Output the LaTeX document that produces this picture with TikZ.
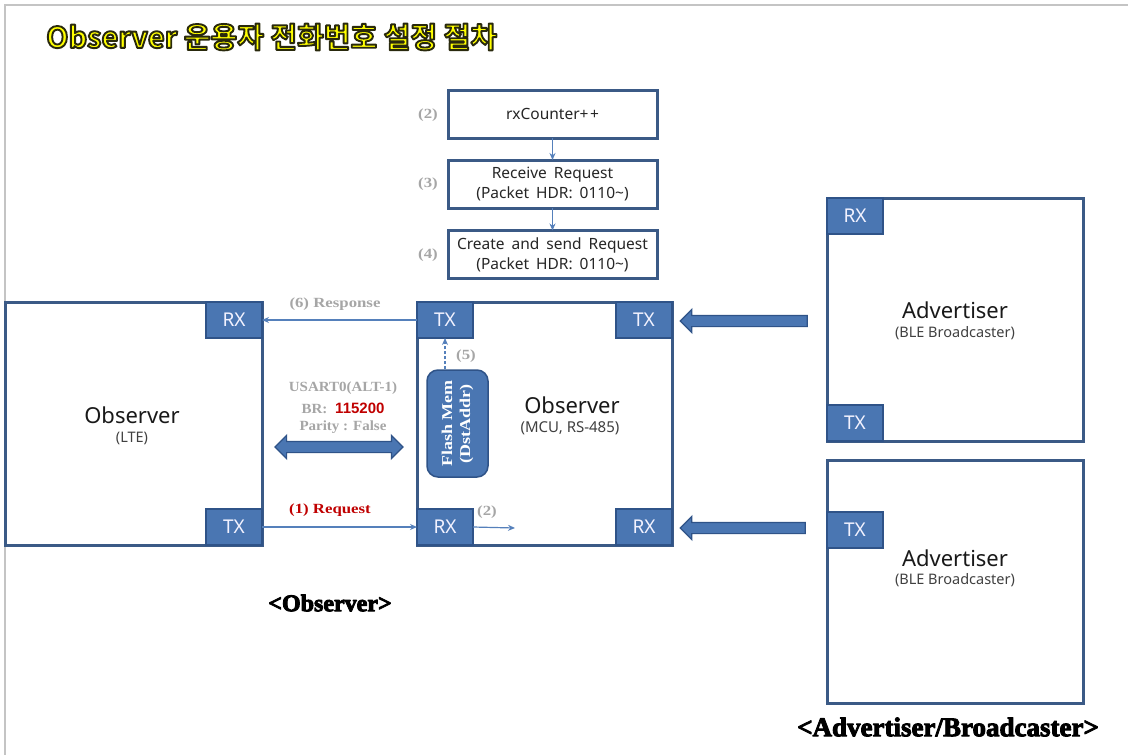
\documentclass[tikz,border=0pt]{standalone}
\usepackage{fontspec}
\usetikzlibrary{arrows.meta,shapes.arrows}
\setmainfont{Noto Sans}
\newfontfamily\krfont{Noto Sans CJK KR}[BoldFont={Noto Sans CJK KR Bold}]
\newfontfamily\lblfont{Liberation Serif}[FakeStretch=1.2]
\newfontfamily\usartfont{Liberation Serif}[FakeStretch=1.07]
\newfontfamily\capfont{Liberation Serif}
\newfontfamily\arialf{Liberation Sans}

\definecolor{edgeblue}{HTML}{3B5A86}
\definecolor{tabblue}{HTML}{4A76B2}
\definecolor{tabedge}{HTML}{2F5388}
\definecolor{thinblue}{HTML}{5580BB}
\definecolor{lblgray}{HTML}{A6A6A6}
\definecolor{reqred}{HTML}{C00000}
\definecolor{framegray}{HTML}{C4C4C4}
\definecolor{titleyellow}{HTML}{FFFF00}

\newcommand{\fs}[1]{\fontsize{#1}{#1}\selectfont}
\newcommand{\widewords}{\spaceskip=0.45em\relax}
% letters filled and stroked with a dark outline (PDF text render mode 2)
\newcommand{\outlined}[1]{\special{pdf:literal direct 2 Tr 1.9 w 1 j 0.16 0.16 0.05 RG}#1\special{pdf:literal direct 0 Tr 0.4 w 0 j}}
% heavier black lettering for the section captions
\newcommand{\heavy}[1]{\special{pdf:literal direct 2 Tr 0.9 w 1 j 0 0 0 RG}#1\special{pdf:literal direct 0 Tr 0.4 w 0 j}}

\tikzset{
  box/.style={draw=edgeblue, line width=3, fill=white, inner sep=0, outer sep=0},
  tab/.style={draw=tabedge, fill=tabblue, line width=1.2, minimum width=56,
    minimum height=36, inner sep=0, outer sep=0, text=white!95!blue, font=\fs{19}},
  flow/.style={box, minimum width=209, minimum height=48, align=center,
    font=\fontsize{15.5}{20}\selectfont, text=black!85},
  steplbl/.style={font=\lblfont\bfseries\fs{14}, text=lblgray, inner sep=0},
  usartlbl/.style={font=\usartfont\bfseries\fs{14}, text=lblgray, inner sep=0},
  thinarr/.style={draw=thinblue, line width=1.2, -{Stealth[length=7,width=6]}},
  dasharr/.style={thinarr, dashed, dash pattern=on 3 off 2},
  fatarr/.style={single arrow, draw=tabedge, fill=tabblue, line width=1.2,
    inner xsep=0, inner ysep=5, single arrow head extend=6, minimum height=#1,
    shape border rotate=180, outer sep=0},
  fatdbl/.style={double arrow, draw=tabedge, fill=tabblue, line width=1.2,
    inner xsep=0, inner ysep=5, double arrow head extend=6, minimum height=#1,
    outer sep=0},
  bigname/.style={font=\fs{22}, text=black!90, inner sep=0},
  subname/.style={font=\fs{14.5}, text=black!75, inner sep=0},
  caption/.style={font=\capfont\bfseries\fs{#1}, text=black, inner sep=0},
}

\begin{document}
\begin{tikzpicture}[x=1pt, y=-1pt]
\useasboundingbox (0,0) rectangle (1128,755);
\fill[white] (0,0) rectangle (1128,755);

% page frame (top and left edges)
\draw[framegray, line width=2] (1128,5) -- (5,5) -- (5,755);

% title: yellow letters with a dark outline
\node[anchor=west, inner sep=0, text=titleyellow, font=\krfont\bfseries\fs{29}] (title) at (46,37)
  {\outlined{Observer 운용자 전화번호 설정 절차}};

% processing steps
\node[flow] (f2) at (552.5,114) {rxCounter+{\kern1.5pt}+};
\node[flow] (f3) at (552.5,184) {\widewords Receive Request\\\widewords(Packet HDR: 0110\textasciitilde)};
\node[flow] (f4) at (552.5,254.5) {\widewords Create and send Request\\\widewords(Packet HDR: 0110\textasciitilde)};
\node[steplbl] (l2) at (428,115) {(2)};
\node[steplbl] (l3) at (428,184) {(3)};
\node[steplbl] (l4) at (428,255) {(4)};
\draw[thinarr] (f2.south) -- (f3.north);
\draw[thinarr] (f3.south) -- (f4.north);

% Observer (LTE)
\node[box, anchor=north west, minimum width=257, minimum height=243] (lte) at (5,302) {};
\node[tab, anchor=north east] (lteRX) at (lte.north east) {RX};
\node[tab, anchor=south east] (lteTX) at (lte.south east) {TX};
\node[bigname] (lteN) at (132,415) {Observer};
\node[subname] (lteS) at (132,438) {(LTE)};

% Observer (MCU)
\node[box, anchor=north west, minimum width=255, minimum height=243] (mcu) at (417,302) {};
\node[tab, anchor=north west] (mcuTXl) at (mcu.north west) {TX};
\node[tab, anchor=north east] (mcuTXr) at (mcu.north east) {TX};
\node[tab, anchor=south west] (mcuRXl) at (mcu.south west) {RX};
\node[tab, anchor=south east] (mcuRXr) at (mcu.south east) {RX};
\node[bigname] (mcuN) at (572,405) {Observer};
\node[subname, font=\fs{15}] (mcuS) at (570,428) {(MCU, RS-485)};
\node[draw=tabedge, fill=tabblue, line width=1.5, rounded corners=11, rotate=90,
  minimum width=107, minimum height=61, inner sep=0, align=center,
  text=white, font=\lblfont\bfseries\fontsize{15}{18}\selectfont] (flash) at (457.5,423.5)
  {Flash Mem\\(DstAddr)};
\coordinate (c2) at (515,528);

% Advertisers
\node[box, anchor=north west, minimum width=256, minimum height=243] (adv1) at (827,198) {};
\node[tab, anchor=north west] (adv1RX) at (adv1.north west) {RX};
\node[tab, anchor=south west] (adv1TX) at (adv1.south west) {TX};
\node[bigname] (adv1N) at (955,310) {Advertiser};
\node[subname] (adv1S) at (955,333) {(BLE Broadcaster)};

\node[box, anchor=north west, minimum width=256, minimum height=243] (adv2) at (827,460) {};
\node[tab, anchor=north west] (adv2TX) at (827,512) {TX};
\node[bigname] (adv2N) at (955,558) {Advertiser};
\node[subname] (adv2S) at (955,580) {(BLE Broadcaster)};

% broadcast arrows into the MCU observer
\node[fatarr=127] (bc1) at (746.5,321) {};
\node[fatarr=125] (bc2) at (745.5,528) {};

% serial link
\node[fatdbl=128] (uart) at (339,447) {};
\node[usartlbl] (u1) at (343,388) {USART0(ALT-1)};
\node[usartlbl] (u2) at (343,408) {BR: \textcolor{reqred}{\arialf\bfseries\fs{15} 115200}};
\node[usartlbl] (u3) at (343,427) {Parity : False};

% message flow
\draw[thinarr] (mcuTXl.west) -- (lteRX.east);
\node[steplbl] (l6) at (335,304) {(6) Response};
\draw[thinarr] (lteTX.east) -- (mcuRXl.west);
\node[steplbl, text=reqred] (l1) at (330,510) {(1) Request};
\draw[thinarr] (mcuRXl.east) -- (c2);
\node[steplbl] (l2b) at (487,512) {(2)};
\draw[dasharr] (mcuTXl.south |- flash.east) -- (mcuTXl.south);
\node[steplbl] (l5) at (466,356) {(5)};

% section captions
\node[caption=24] (capObs) at (330,603) {\heavy{<Observer>}};
\node[caption=27] (capAdv) at (948,727) {\heavy{<Advertiser/Broadcaster>}};
\end{tikzpicture}
\end{document}
